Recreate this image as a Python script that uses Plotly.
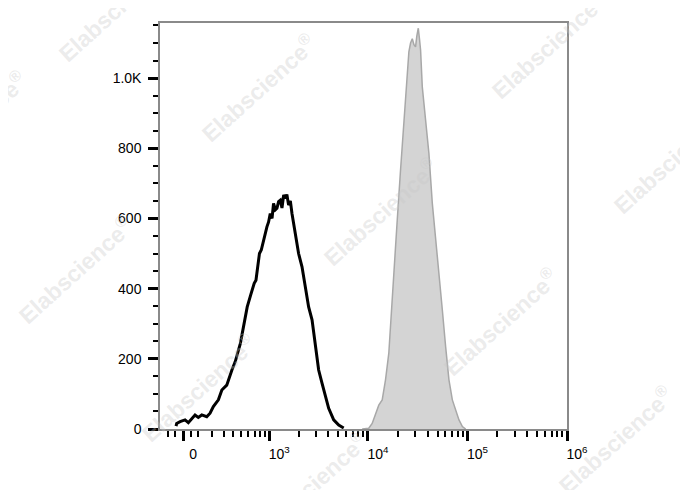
import numpy as np
import plotly.graph_objects as go

# ---- data (fluorescence intensity vs. event count) ----
unstained_x = [-45, -41, -19, 13, 34, 56, 78, 100, 124, 160, 185, 211, 253, 284, 331, 385, 423, 486,
               531, 581, 635, 693, 724, 757, 789, 825, 858, 905, 946, 985, 1025, 1070, 1109, 1160,
               1203, 1250, 1301, 1354, 1410, 1464, 1520, 1583, 1650, 1714, 1852, 2001, 2167, 2340,
               2528, 2737, 2955, 3191, 3455, 3730, 4027, 4523, 5081, 5705]
unstained_y = [8, 16, 21, 26, 18, 30, 40, 33, 40, 35, 45, 64, 83, 111, 125, 168, 192, 244,
               291, 348, 382, 415, 424, 462, 500, 510, 529, 560, 576, 590, 614, 600, 643, 625,
               629, 648, 652, 630, 667, 657, 668, 638, 650, 614, 558, 500, 462, 405,
               348, 311, 244, 168, 130, 92, 59, 26, 11, 3]

stained_x = [8745, 10190, 11026, 11905, 12852, 13906, 15013, 16206, 16855, 18201, 19691, 21257,
             22949, 23879, 24836, 25780, 26800, 27889, 29000, 30081, 31000, 32051, 33000, 33800,
             35159, 37962, 40987, 44345, 47869, 51671, 55916, 60356, 65157, 70485, 76118, 82168,
             88911, 95960]
stained_y = [0, 2, 16, 40, 68, 83, 140, 216, 300, 444, 595, 738,
             880, 956, 1013, 1075, 1100, 1112, 1095, 1089, 1120, 1142, 1110, 1080,
             975, 880, 785, 643, 548, 453, 339, 234, 140, 83, 54, 26,
             7, 0]

y_tick_vals = [0, 200, 400, 600, 800, 1000]
y_tick_text = ["0", "200", "400", "600", "800", "1.0K"]
x_major_vals = [0, 1e3, 1e4, 1e5, 1e6]
x_major_text = ["0", "10<sup>3</sup>", "10<sup>4</sup>", "10<sup>5</sup>", "10<sup>6</sup>"]
x_minor_vals = ([-100, -50, 50, 100] + [k * 100 for k in range(2, 10)]
                + [k * 1000 for k in range(2, 10)] + [k * 10000 for k in range(2, 10)]
                + [k * 100000 for k in range(2, 10)])
x_limits = [-155, 1.0e6]
y_limits = [0, 1157]

watermark_text = "Elabscience<sup>®</sup>"
watermark_pos = [(258, 88), (548, 45), (115, 8), (-31, 125), (670, 160), (380, 212),
                 (75, 270), (500, 322), (198, 388), (615, 440), (310, 485)]

# biexponential (arcsinh) display scale
W = 277.5
def biex(v):
    return np.arcsinh(np.asarray(v, dtype=float) / W) / np.log(10)

fig = go.Figure()
fig.add_trace(go.Scatter(
    x=biex(stained_x), y=stained_y, mode="lines",
    line=dict(color="#a8a8a8", width=1.5), fill="tozeroy", fillcolor="#d4d4d4",
    hoverinfo="skip", showlegend=False))
fig.add_trace(go.Scatter(
    x=biex(unstained_x), y=unstained_y, mode="lines",
    line=dict(color="black", width=3), hoverinfo="skip", showlegend=False))

# page body has an 8px default margin; compensate so the plot lands where the reference has it
PAGE_OFF = 8
W_PX, H_PX = 688 - PAGE_OFF, 490 - PAGE_OFF
M_L, M_R, M_T, M_B = 160 - PAGE_OFF, 121, 23 - PAGE_OFF, 61
plot_w = W_PX - M_L - M_R
plot_h = H_PX - M_T - M_B
for (px, py) in watermark_pos:
    fig.add_annotation(
        x=(px - 160) / plot_w, y=(429 - py) / plot_h, xref="paper", yref="paper",
        text=watermark_text, showarrow=False, textangle=-42,
        font=dict(family="Liberation Sans, Arial", size=23, weight="bold",
                  color="rgba(200,200,200,0.36)"),
        xanchor="center", yanchor="middle")

axis_font = dict(family="Liberation Sans, Arial", size=14, color="black")
fig.update_xaxes(
    range=list(biex(x_limits)), showgrid=False, zeroline=False,
    showline=True, linecolor="#8a8a8a", linewidth=1.5, mirror=True,
    tickmode="array", tickvals=list(biex(x_major_vals)), ticktext=x_major_text,
    ticks="outside", ticklen=10, tickwidth=3, tickcolor="black",
    ticklabelshift=10, ticklabelstandoff=1, tickfont=axis_font,
    minor=dict(tickmode="array", tickvals=list(biex(x_minor_vals)), ticks="outside",
               ticklen=6, tickwidth=2, tickcolor="black"))
fig.update_yaxes(
    range=y_limits, showgrid=False, zeroline=False,
    showline=True, linecolor="#8a8a8a", linewidth=1.5, mirror=True,
    tickmode="array", tickvals=y_tick_vals, ticktext=y_tick_text,
    ticks="outside", ticklen=10, tickwidth=3, tickcolor="black",
    ticklabelstandoff=4, tickfont=axis_font,
    minor=dict(dtick=50, tick0=0, ticks="outside", ticklen=5, tickwidth=2, tickcolor="black"))

fig.update_layout(
    width=W_PX, height=H_PX, paper_bgcolor="white", plot_bgcolor="white",
    margin=dict(l=M_L, r=M_R, t=M_T, b=M_B, autoexpand=False), showlegend=False)

fig.write_html("out.html")
